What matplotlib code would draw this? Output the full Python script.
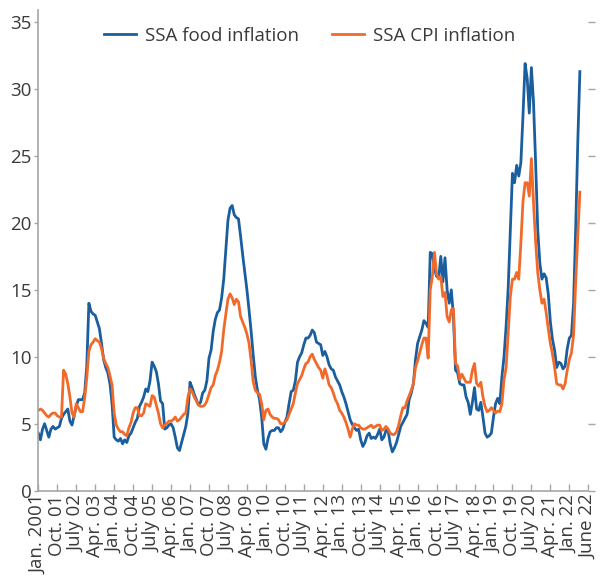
import numpy as np
import matplotlib
matplotlib.use("Agg")
import matplotlib.pyplot as plt

# monthly y/y inflation, Jan 2001 - June 2022 (percent)
food_inflation = [
    4.3, 3.8, 4.6, 5.0, 4.5, 4.0, 4.6, 4.8, 4.6, 4.7, 4.8, 5.4,  # 2001
    5.7, 5.9, 6.1, 5.2, 4.9, 5.6, 6.3, 6.8, 6.8, 6.8, 7.3, 9.3,  # 2002
    14.0, 13.4, 13.2, 13.1, 12.6, 12.1, 11.0, 9.8, 9.2, 8.8, 8.0, 6.5,  # 2003
    4.0, 3.8, 3.7, 3.9, 3.5, 3.8, 3.6, 4.1, 4.3, 4.7, 5.1, 5.4,  # 2004
    6.3, 6.6, 7.0, 7.6, 7.4, 8.2, 9.6, 9.3, 8.9, 8.0, 6.7, 6.5,  # 2005
    4.6, 4.7, 4.9, 5.0, 4.7, 4.0, 3.2, 3.0, 3.6, 4.2, 4.8, 5.8,  # 2006
    8.1, 7.7, 7.2, 6.8, 6.4, 6.6, 7.3, 7.5, 8.2, 9.9, 10.5, 11.9,  # 2007
    12.8, 13.3, 13.5, 14.4, 15.8, 18.0, 20.2, 21.1, 21.3, 20.6, 20.4, 20.3,  # 2008
    19.0, 17.6, 16.3, 15.0, 13.5, 11.9, 10.1, 8.5, 7.5, 6.8, 5.5, 3.5,  # 2009
    3.1, 3.9, 4.4, 4.5, 4.5, 4.7, 4.7, 4.4, 4.6, 5.1, 5.5, 6.5,  # 2010
    7.4, 7.5, 8.2, 9.6, 10.0, 10.3, 10.9, 11.4, 11.4, 11.6, 12.0, 11.8,  # 2011
    11.1, 11.0, 10.9, 10.1, 10.4, 10.0, 9.4, 9.1, 9.0, 8.5, 8.2, 7.9,  # 2012
    7.4, 7.0, 6.5, 5.9, 5.3, 4.95, 4.7, 4.5, 4.6, 3.8, 3.3, 3.6,  # 2013
    4.1, 4.3, 3.9, 4.0, 3.9, 4.2, 4.6, 3.8, 4.0, 4.5, 4.5, 3.5,  # 2014
    2.9, 3.2, 3.6, 4.2, 4.8, 5.1, 5.4, 5.7, 6.8, 7.3, 8.0, 9.8,  # 2015
    11.0, 11.5, 12.0, 12.7, 12.5, 12.2, 17.8, 17.7, 16.6, 16.0, 15.9, 17.5,  # 2016
    15.6, 17.4, 15.0, 14.0, 15.0, 13.0, 9.0, 8.8, 8.0, 7.9, 7.9, 7.0,  # 2017
    6.6, 5.7, 6.6, 7.7, 6.1, 6.0, 6.6, 5.5, 4.3, 4.0, 4.1, 4.3,  # 2018
    5.5, 6.5, 6.9, 6.5, 8.5, 10.0, 12.3, 15.2, 19.5, 23.7, 23.0, 24.3,  # 2019
    23.5, 24.5, 28.0, 31.9, 30.8, 28.2, 31.6, 29.0, 24.5, 19.5, 17.0, 15.8,  # 2020
    16.2, 15.9, 14.7, 12.6, 11.3, 10.5, 9.2, 9.6, 9.5, 9.1, 9.3, 10.6,  # 2021
    11.4, 11.6, 14.0, 19.5, 26.0, 31.3,  # 2022
]

cpi_inflation = [
    6.0, 6.1, 6.0, 5.8, 5.6, 5.5, 5.7, 5.8, 5.8, 5.6, 5.5, 5.5,  # 2001
    9.0, 8.7, 8.0, 7.0, 5.8, 5.5, 6.5, 6.2, 5.9, 5.9, 6.9, 8.4,  # 2002
    10.4, 10.9, 11.1, 11.35, 11.2, 11.1, 10.6, 9.9, 9.5, 9.2, 8.6, 7.9,  # 2003
    5.8, 4.9, 4.6, 4.4, 4.4, 4.2, 4.1, 4.7, 5.1, 5.8, 6.2, 6.2,  # 2004
    5.6, 5.6, 5.8, 6.5, 6.4, 6.3, 7.1, 7.0, 6.4, 5.8, 5.0, 4.7,  # 2005
    4.9, 5.0, 5.2, 5.2, 5.3, 5.5, 5.2, 5.3, 5.5, 5.7, 5.8, 7.0,  # 2006
    7.6, 7.4, 7.0, 6.7, 6.4, 6.3, 6.3, 6.4, 6.7, 7.2, 7.7, 7.9,  # 2007
    8.6, 9.0, 9.6, 10.4, 12.0, 13.2, 14.3, 14.7, 14.4, 13.9, 14.3, 14.1,  # 2008
    13.0, 12.6, 12.2, 11.7, 11.0, 9.7, 8.1, 7.5, 7.3, 7.2, 6.5, 5.3,  # 2009
    6.0, 6.1, 5.7, 5.5, 5.4, 5.4, 5.3, 5.0, 5.0, 5.1, 5.3, 5.7,  # 2010
    6.1, 6.5, 7.3, 8.0, 8.3, 8.6, 9.1, 9.5, 9.6, 10.0, 10.2, 9.8,  # 2011
    9.5, 9.2, 9.0, 8.4, 9.1, 8.6, 7.9, 7.7, 7.3, 6.8, 6.5, 6.0,  # 2012
    5.8, 5.5, 5.1, 4.6, 4.0, 4.6, 5.0, 4.9, 4.9, 4.7, 4.6, 4.6,  # 2013
    4.7, 4.8, 4.9, 4.7, 4.8, 4.9, 4.9, 4.5, 4.6, 4.8, 4.6, 4.3,  # 2014
    4.2, 4.2, 4.4, 4.9, 5.6, 6.2, 6.2, 6.7, 7.1, 7.5, 8.0, 9.2,  # 2015
    9.7, 10.3, 10.9, 11.4, 11.4, 9.9, 15.0, 16.0, 17.8, 16.2, 15.8, 16.0,  # 2016
    14.5, 14.8, 13.0, 12.6, 13.5, 13.6, 9.5, 9.3, 8.3, 8.7, 8.4, 8.1,  # 2017
    8.1, 8.1, 9.0, 9.5, 8.0, 7.8, 8.1, 7.0, 6.3, 5.9, 6.0, 6.2,  # 2018
    6.0, 5.8, 5.95, 5.9, 6.5, 8.3, 9.2, 11.8, 14.5, 15.8, 15.8, 16.3,  # 2019
    15.8, 18.5, 21.6, 23.0, 23.0, 22.0, 24.8, 21.5, 18.6, 16.3, 15.0, 14.0,  # 2020
    14.3, 13.3, 12.1, 11.0, 10.2, 9.2, 8.0, 7.9, 7.9, 7.6, 8.0, 9.0,  # 2021
    9.8, 10.3, 11.6, 15.5, 19.0, 22.3,  # 2022
]

tick_labels = [
    "Jan. 2001", "Oct. 01", "July 02", "Apr. 03", "Jan. 04", "Oct. 04",
    "July 05", "Apr. 06", "Jan. 07", "Oct. 07", "July 08", "Apr. 09",
    "Jan. 10", "Oct. 10", "July 11", "Apr. 12", "Jan. 13", "Oct. 13",
    "July 14", "Apr. 15", "Jan. 16", "Oct. 16", "July 17", "Apr. 18",
    "Jan. 19", "Oct. 19", "July 20", "Apr. 21", "Jan. 22", "June 22",
]

BLUE = "#1b5e9e"
ORANGE = "#f26a2a"
GREY = "#a6a6a6"
TEXT = "#3a3a3a"

plt.rcParams["font.family"] = ["Open Sans", "DejaVu Sans"]

months = np.arange(len(food_inflation))

fig = plt.figure(figsize=(6.05, 5.85), dpi=100)
ax = fig.add_axes([0.0633, 0.1612, 0.9091, 0.8217])

ax.plot(months, food_inflation, color=BLUE, lw=2.0, label="SSA food inflation")
ax.plot(months, cpi_inflation, color=ORANGE, lw=2.0, label="SSA CPI inflation")

ax.set_xlim(0, 261)
ax.set_ylim(0, 35.9)

ax.set_xticks(np.arange(len(tick_labels)) * 9)
ax.set_xticklabels(tick_labels, rotation=90, fontsize=13.5, color=TEXT)
ax.set_yticks(np.arange(0, 36, 5))
ax.tick_params(axis="y", labelsize=13.5, colors=GREY, labelcolor=TEXT,
               direction="out", length=3, pad=2, width=1)
ax.tick_params(axis="y", which="major", right=True, labelright=False)
ax.tick_params(axis="x", direction="in", length=5, colors=GREY,
               labelcolor=TEXT, pad=3, width=1)
for t in ax.yaxis.get_major_ticks():
    t.tick2line.set_markersize(5)

for side in ["top", "right"]:
    ax.spines[side].set_visible(False)
for side in ["left", "bottom"]:
    ax.spines[side].set_color(GREY)
    ax.spines[side].set_linewidth(1.2)

ax.legend(loc="upper left", bbox_to_anchor=(0.088, 1.0), ncol=2,
          frameon=False, fontsize=13.5, handlelength=1.75, handletextpad=0.45,
          columnspacing=1.75, labelcolor=TEXT, borderaxespad=0.5)

fig.savefig("out.png", dpi=100)
